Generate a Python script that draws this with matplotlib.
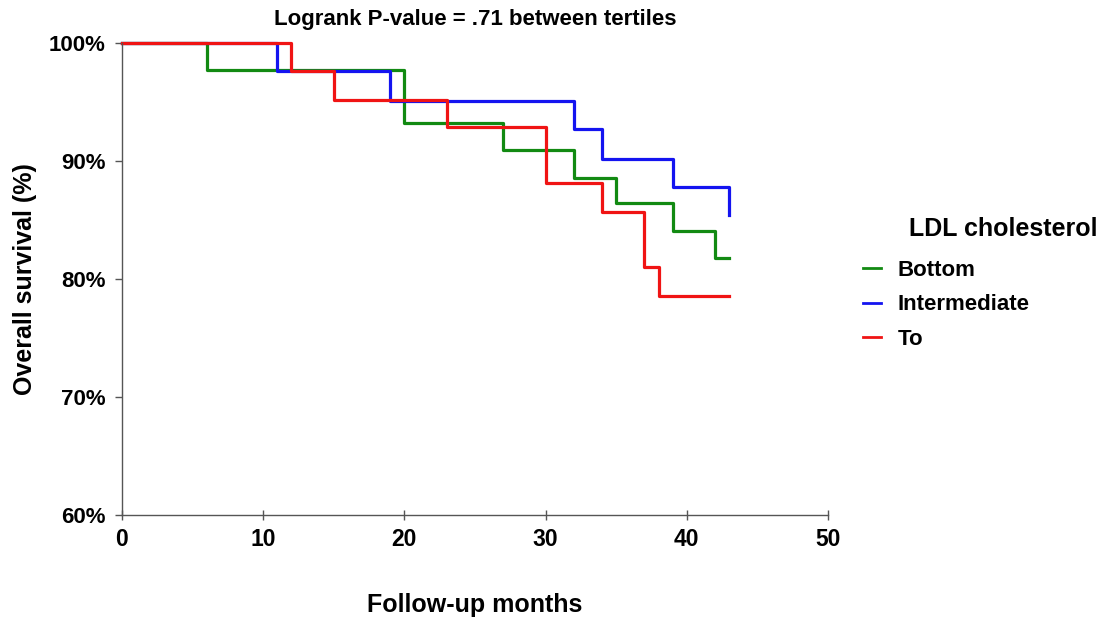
import matplotlib
matplotlib.use("Agg")
import matplotlib.pyplot as plt
from matplotlib.ticker import FuncFormatter

plt.rcParams['font.family'] = ['Liberation Sans', 'DejaVu Sans']
plt.rcParams['font.weight'] = 'bold'

# Kaplan-Meier steps (months, survival %)
bottom_months = [0, 6, 20, 27, 32, 35, 39, 42, 43]
bottom_surv = [100, 97.7, 93.2, 90.9, 88.6, 86.4, 84.1, 81.8, 81.8]

inter_months = [0, 11, 19, 32, 34, 39, 43]
inter_surv = [100, 97.6, 95.1, 92.7, 90.2, 87.8, 85.4]

top_months = [0, 12, 15, 23, 30, 34, 37, 38, 43]
top_surv = [100, 97.6, 95.2, 92.9, 88.1, 85.7, 81.0, 78.6, 78.6]

group_labels = ['Bottom', 'Intermediate', 'To']
colors = ['#128a12', '#1414f0', '#f01414']

fig = plt.figure(figsize=(11.06, 6.21), dpi=100)
ax = fig.add_axes([122 / 1106, 1 - 515 / 621, 706 / 1106, 472 / 621])

series = [(bottom_months, bottom_surv), (inter_months, inter_surv), (top_months, top_surv)]
for (m, s), lab, c in zip(series, group_labels, colors):
    ax.step(m, s, where='post', color=c, lw=2.3, label=lab, clip_on=False)

ax.set_xlim(0, 50)
ax.set_ylim(60, 100)
ax.set_xticks([0, 10, 20, 30, 40, 50])
ax.set_yticks([60, 70, 80, 90, 100])
ax.yaxis.set_major_formatter(FuncFormatter(lambda v, p: f"{v:.0f}%"))

for side in ['top', 'right']:
    ax.spines[side].set_visible(False)
for side in ['left', 'bottom']:
    ax.spines[side].set_color('#555555')
    ax.spines[side].set_linewidth(1.0)

ax.tick_params(axis='y', direction='out', length=5, width=1, color='#555555',
               labelsize=16, pad=7)
ax.tick_params(axis='x', direction='inout', length=7, width=1, color='#555555',
               labelsize=16.5, pad=6)

ax.set_xlabel('Follow-up months', fontsize=18, fontweight='bold')
ax.xaxis.label.set_va('center')
ax.xaxis.set_label_coords(0.5, (515 - 605) / 472)
ax.set_ylabel('Overall survival (%)', fontsize=18, fontweight='bold')
ax.yaxis.label.set_va('center')
ax.yaxis.set_label_coords((25 - 122) / 706, 0.5)

fig.text(475 / 1106, 1 - 20 / 621, 'Logrank P-value = .71 between tertiles',
         ha='center', va='center', fontsize=16, fontweight='bold')

fig.text(909 / 1106, 1 - 229 / 621, 'LDL cholesterol', ha='left', va='center',
         fontsize=18, fontweight='bold')
leg = ax.legend(loc='upper left', bbox_to_anchor=(863 / 1106, 1 - 260 / 621),
                bbox_transform=fig.transFigure, frameon=False,
                prop={'size': 16, 'weight': 'bold'}, handlelength=0.8,
                handletextpad=0.75, labelspacing=0.6, borderpad=0, borderaxespad=0)
for h in leg.get_lines():
    h.set_linewidth(2.0)

fig.savefig('out.png', dpi=100)
